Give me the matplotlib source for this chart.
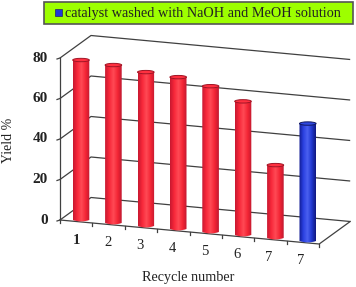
import numpy as np
import matplotlib
matplotlib.use('Agg')
import matplotlib.pyplot as plt
from matplotlib.patches import Rectangle, Ellipse, PathPatch
from matplotlib.path import Path
from matplotlib.colors import LinearSegmentedColormap

categories = ['1', '2', '3', '4', '5', '6', '7', '7']
yields = [79, 78, 76, 75, 72, 66, 36, 58]
bar_kinds = ['r', 'r', 'r', 'r', 'r', 'r', 'r', 'b']
y_ticks = [0, 20, 40, 60, 80]
legend_label = 'catalyst washed with NaOH and MeOH solution'

plt.rcParams['font.family'] = ['Liberation Serif']
W, H = 356, 287
fig = plt.figure(figsize=(W / 100, H / 100), dpi=100)
ax = fig.add_axes([0, 0, 1, 1])
ax.set_xlim(0, W)
ax.set_ylim(H, 0)
ax.axis('off')

X0, Y0 = 60.0, 220.0      # front-left floor corner
DX, DY = 32.4, 3.0        # one category along the front edge
UNIT = 2.025              # pixels per yield unit
SX, SY = 31.0, -22.5      # depth offset


def proj(cat, val, depth=0.0):
    return X0 + cat * DX + depth * SX, Y0 + cat * DY - val * UNIT + depth * SY


n = len(categories)
edge = '#404040'
# back wall gridlines and left-side slants
for v in y_ticks:
    pts = [proj(0, v, 0), proj(0, v, 1), proj(n, v, 1)]
    xs, ys = zip(*pts)
    ax.plot(xs, ys, color=edge, lw=0.9, zorder=1, solid_capstyle='butt')
    tx, ty = proj(0, v, 0)
    ax.plot([tx - 3, tx], [ty + 1, ty], color=edge, lw=0.9, zorder=1)
    ax.text(tx - 12, ty, str(v), ha='right', va='center', fontsize=11,
            fontweight='bold', color='#222222', zorder=5)
a, b = proj(0, 0, 0), proj(0, 80, 0)
ax.plot([a[0], b[0]], [a[1], b[1]], color=edge, lw=0.9, zorder=1)
# floor
corners = [proj(0, 0, 0), proj(n, 0, 0), proj(n, 0, 1)]
ax.plot(*zip(*corners), color=edge, lw=0.9, zorder=1)
for i in range(n + 1):
    p = proj(i, 0, 0)
    ax.plot([p[0], p[0]], [p[1], p[1] + 3], color=edge, lw=0.9, zorder=1)

cm_r = LinearSegmentedColormap.from_list('r', ['#c81830', '#f8283a', '#ff4a55', '#f42535', '#c01830'])
cm_b = LinearSegmentedColormap.from_list('b', ['#101a90', '#2a40e0', '#4a60f0', '#2038d0', '#101880'])
grad = np.linspace(0, 1, 64).reshape(1, -1)
hw = 8.3
for i, (v, k) in enumerate(zip(yields, bar_kinds)):
    cx, yb = 81 + i * DX, Y0 + i * DY
    yt = yb - v * UNIT
    cm = cm_r if k == 'r' else cm_b
    verts = [(cx - hw, yt), (cx + hw, yt), (cx + hw, yb), (cx, yb + 3), (cx - hw, yb), (cx - hw, yt)]
    codes = [Path.MOVETO, Path.LINETO, Path.LINETO, Path.CURVE3, Path.CURVE3, Path.CLOSEPOLY]
    patch = PathPatch(Path(verts, codes), fc='none', ec='none', zorder=3)
    ax.add_patch(patch)
    im = ax.imshow(grad, cmap=cm, extent=(cx - hw, cx + hw, yb + 3, yt), aspect='auto', zorder=3)
    im.set_clip_path(patch)
    top = '#ff3040' if k == 'r' else '#2f48e0'
    rim = '#a01525' if k == 'r' else '#101860'
    ax.add_patch(Ellipse((cx, yt), 2 * hw, 3.4, fc=top, ec=rim, lw=0.7, zorder=4))
ax.set_xlim(0, W)
ax.set_ylim(H, 0)

# category labels
label_x0, label_y0 = 76, 240
for i, c in enumerate(categories):
    ax.text(label_x0 + i * 32.1, label_y0 + i * 2.9, c, ha='center', va='center',
            fontsize=10.5, fontweight='bold' if i == 0 else 'normal', color='#222222')

ax.text(188, 278, 'Recycle number', ha='center', va='center', fontsize=10.2, color='#222222')
ax.text(9, 140, 'Yield %', rotation=90, ha='center', va='center', fontsize=10, color='#222222')

# legend
ax.add_patch(Rectangle((44, 1.5), 309, 22.5, fc='#9dff00', ec='#555555', lw=1.2, zorder=2))
ax.add_patch(Rectangle((54.5, 9), 7.5, 7, fc='#2038d8', ec='#222266', lw=0.5, zorder=3))
ax.text(65, 13, legend_label, ha='left', va='center', fontsize=10.3, color='#222222', zorder=3)

fig.savefig('out.png', dpi=100)
